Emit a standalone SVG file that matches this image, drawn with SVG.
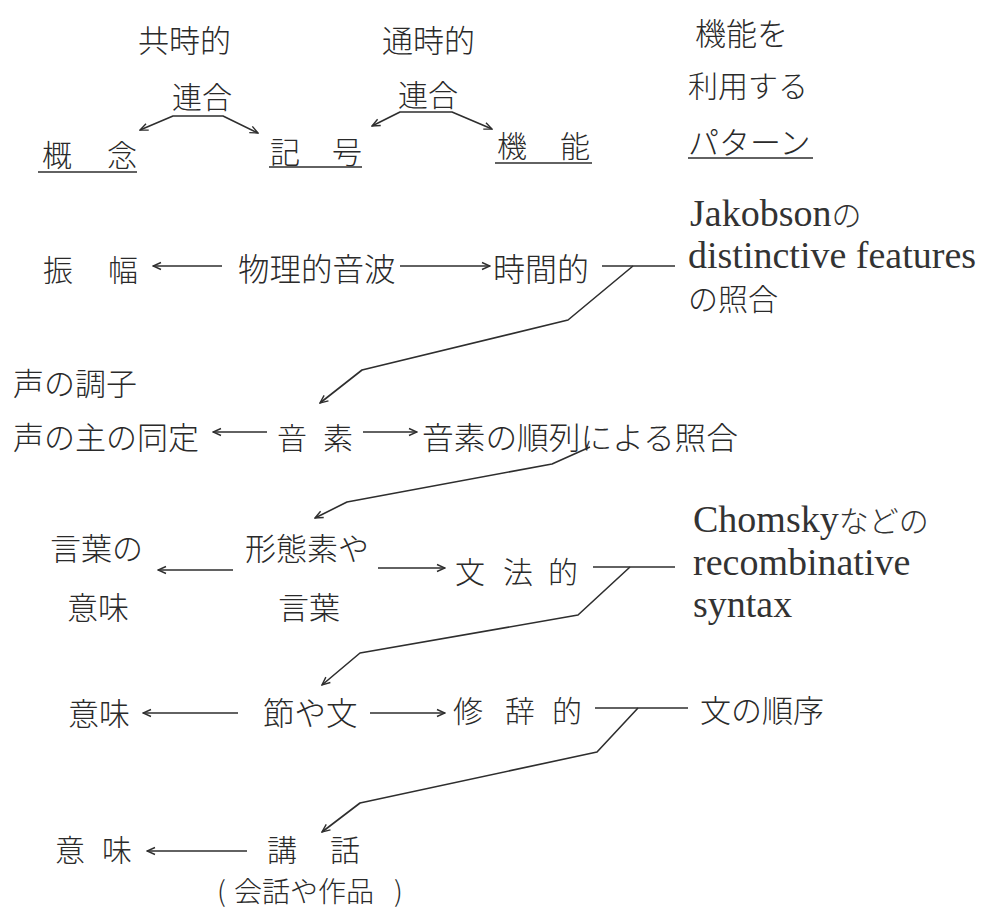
<svg xmlns="http://www.w3.org/2000/svg" width="981" height="911" viewBox="0 0 981 911">
<style>
text{fill:#2a2a2a;font-family:"Noto Sans CJK JP","Noto Sans CJK SC",sans-serif;font-size:30px;font-weight:300}
.lat{font-family:"Liberation Serif","Noto Sans CJK JP",serif;font-size:38px;font-weight:400;fill:#333}
.lat tspan.j{font-family:"Noto Sans CJK JP",sans-serif;font-size:30px;font-weight:300}
.ln{fill:none;stroke:#2e2e2e;stroke-width:1.6;stroke-linejoin:round}
.ar{marker-end:url(#ah)}
.ar2{marker-start:url(#ah);marker-end:url(#ah)}
</style>
<defs>
<marker id="ah" viewBox="0 0 10 10" refX="9" refY="5" markerWidth="10" markerHeight="10" markerUnits="userSpaceOnUse" orient="auto-start-reverse">
<path d="M1,1.5 L9,5 L1,8.5" fill="none" stroke="#2e2e2e" stroke-width="1.4"/>
</marker>
</defs>
<rect width="981" height="911" fill="#fff"/>

<g id="connectors">
<polyline class="ln ar2" points="140,130 173,116 223,116 258,133"/>
<polyline class="ln ar2" points="372,126 400,112 452,112 492,129"/>
<line class="ln" x1="38" y1="172" x2="137" y2="172"/>
<line class="ln" x1="269" y1="167" x2="362" y2="167"/>
<line class="ln" x1="495" y1="163" x2="592" y2="163"/>
<line class="ln" x1="688" y1="158" x2="813" y2="158"/>

<line class="ln ar" x1="222" y1="266" x2="153" y2="266"/>
<line class="ln ar" x1="400" y1="266" x2="490" y2="266"/>
<line class="ln" x1="602" y1="266" x2="675" y2="266"/>
<polyline class="ln ar" points="633,266 568,320 362,370 320,403"/>

<line class="ln ar" x1="267" y1="432" x2="213" y2="432"/>
<line class="ln ar" x1="363" y1="432" x2="417" y2="432"/>
<polyline class="ln ar" points="590,447 552,464 347,502 315,518"/>

<line class="ln ar" x1="233" y1="570" x2="158" y2="570"/>
<line class="ln ar" x1="378" y1="568" x2="445" y2="568"/>
<line class="ln" x1="593" y1="567" x2="675" y2="567"/>
<polyline class="ln ar" points="630,567 578,615 360,653 322,685"/>

<line class="ln ar" x1="238" y1="713" x2="143" y2="713"/>
<line class="ln ar" x1="370" y1="713" x2="445" y2="713"/>
<line class="ln" x1="595" y1="708" x2="688" y2="708"/>
<polyline class="ln ar" points="638,708 597,752 360,803 322,832"/>

<line class="ln ar" x1="247" y1="851" x2="147" y2="851"/>
</g>

<g id="header">
<text x="138" y="52" style="font-size:31px">共時的</text>
<text x="382" y="52" style="font-size:31px">通時的</text>
<text x="695" y="45" style="font-size:31px">機能を</text>
<text x="172" y="108">連合</text>
<text x="398" y="106">連合</text>
<text x="688" y="97">利用する</text>
</g>
<g id="n-gainen"><text x="42 107" y="166">概念</text></g>
<g id="n-kigou"><text x="270 332" y="163">記号</text></g>
<g id="n-kinou"><text x="497 560" y="157">機能</text></g>
<g id="n-pattern"><text x="688" y="154" style="font-size:31px">パターン</text></g>

<g id="n-shinpuku"><text x="43 108" y="281">振幅</text></g>
<g id="n-onpa"><text x="238" y="281" style="font-size:31.5px">物理的音波</text></g>
<g id="n-jikanteki"><text x="493" y="281" style="font-size:32px">時間的</text></g>
<g id="n-jakobson">
<text class="lat" x="690" y="226">Jakobson<tspan class="j">の</tspan></text>
<text class="lat" x="688" y="268">distinctive features</text>
<text x="688" y="310">の照合</text>
</g>

<g id="n-koe"><text x="13" y="395" style="font-size:31px">声の調子</text>
<text x="13" y="449" style="font-size:31px">声の主の同定</text></g>
<g id="n-onso"><text x="277 323" y="449">音素</text></g>
<g id="n-junretsu"><text x="422" y="449" style="font-size:31px" textLength="316" lengthAdjust="spacingAndGlyphs">音素の順列による照合</text></g>

<g id="n-kotoba-imi"><text x="50" y="560" style="font-size:31px">言葉の</text>
<text x="67" y="619" style="font-size:31px">意味</text></g>
<g id="n-keitaiso"><text x="245" y="560" style="font-size:31px">形態素や</text>
<text x="278" y="619" style="font-size:31px">言葉</text></g>
<g id="n-bunpou"><text x="455 503 548" y="583">文法的</text></g>
<g id="n-chomsky">
<text class="lat" x="693" y="532">Chomsky<tspan class="j">などの</tspan></text>
<text class="lat" x="693" y="575">recombinative</text>
<text class="lat" x="693" y="617">syntax</text>
</g>

<g id="n-imi2"><text x="68" y="725" style="font-size:31px">意味</text></g>
<g id="n-setsu"><text x="263" y="725" style="font-size:31.5px">節や文</text></g>
<g id="n-shuji"><text x="453 505 552" y="722">修辞的</text></g>
<g id="n-junjo"><text x="700" y="722" style="font-size:31px">文の順序</text></g>

<g id="n-imi3"><text x="55 102" y="861">意味</text></g>
<g id="n-kouwa"><text x="267 330" y="861">講話</text>
<text x="217" y="902" style="font-size:28px">(<tspan x="234">会話や作品</tspan><tspan x="394">)</tspan></text></g>
</svg>
